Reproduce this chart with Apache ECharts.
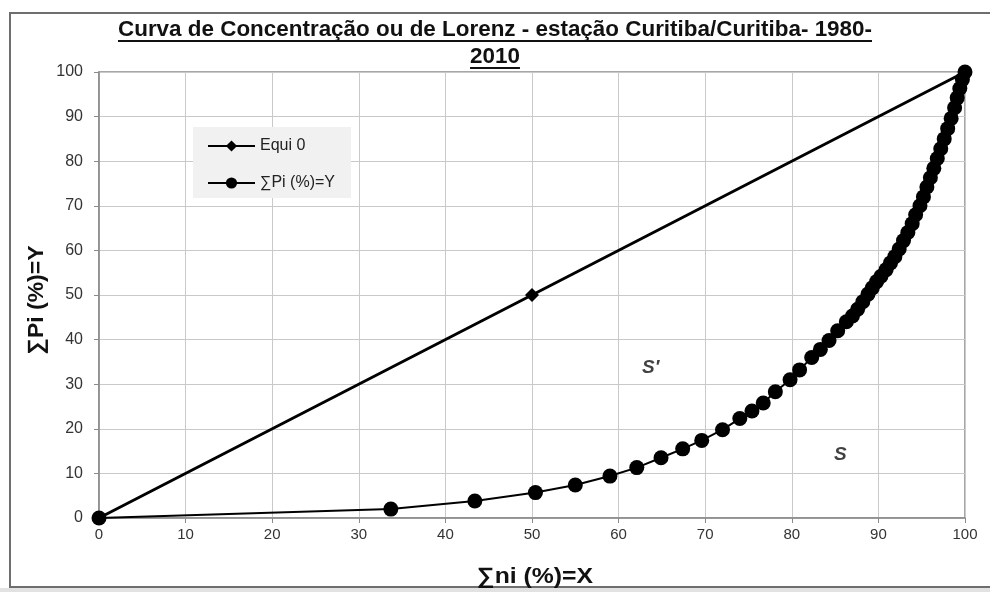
<!DOCTYPE html>
<html><head><meta charset="utf-8">
<script src="https://cdn.jsdelivr.net/npm/echarts@6/dist/echarts.min.js"></script>
<style>html,body{margin:0;padding:0;background:#fff}#c{width:990px;height:592px}</style>
</head><body><div id="c"></div>
<script>
const titleLines = ['Curva de Concentração ou de Lorenz - estação Curitiba/Curitiba- 1980-', '2010'];
const xAxisName = '∑ni (%)=X';
const yAxisName = '∑Pi (%)=Y';
const equiName = 'Equi 0';
const lorenzName = '∑Pi (%)=Y';
const equiX = [0, 50, 100];
const equiY = [0, 50, 100];
const lorenzX = [0, 33.7, 43.4, 50.4, 55.0, 59.0, 62.1, 64.9, 67.4, 69.6, 72.0, 74.0, 75.4, 76.7, 78.1, 79.8, 80.9, 82.3, 83.3, 84.3, 85.3, 86.3, 87.0, 87.6, 88.2, 88.8, 89.3, 89.8, 90.3, 90.9, 91.4, 91.9, 92.4, 92.9, 93.4, 93.9, 94.3, 94.8, 95.2, 95.6, 96.0, 96.4, 96.8, 97.2, 97.6, 98.0, 98.4, 98.8, 99.1, 99.4, 99.7, 100];
const lorenzY = [0, 2.0, 3.8, 5.7, 7.4, 9.4, 11.3, 13.5, 15.5, 17.4, 19.8, 22.3, 24.0, 25.8, 28.3, 31.0, 33.2, 36.0, 37.8, 39.8, 42.0, 44.0, 45.3, 46.8, 48.5, 50.2, 51.6, 53.0, 54.2, 55.7, 57.2, 58.6, 60.3, 62.2, 64.0, 66.0, 68.0, 70.0, 72.0, 74.2, 76.3, 78.4, 80.6, 82.8, 85.0, 87.3, 89.6, 92.0, 94.2, 96.3, 98.3, 100];
const annotText = ["S′", 'S'];
const annotX = [63.7, 85.6];
const annotY = [33.6, 14.1];

const pair = (xs, ys) => xs.map((x, i) => [x, ys[i]]);
const font = '"Liberation Sans", Arial, sans-serif';

const measure = (t, f) => { const cv = document.createElement('canvas').getContext('2d'); cv.font = f; return cv.measureText(t).width; };
const titleFont = 'bold 22px "Liberation Sans", Arial, sans-serif';
const sx = 754 / measure(titleLines[0], titleFont);
const line2W = measure(titleLines[1], titleFont) * sx;
const axFont = 'bold 22px "Liberation Sans", Arial, sans-serif';
const xnS = 116 / measure(xAxisName, axFont);
const ynS = 109 / measure(yAxisName, axFont);

const chart = echarts.init(document.getElementById('c'), null, {renderer: 'canvas'});
chart.setOption({
  animation: false,
  backgroundColor: '#fff',
  graphic: [
    {type: 'rect', silent: true, shape: {x: 0, y: 588, width: 990, height: 4}, style: {fill: '#e2e2e2'}},
    {type: 'rect', silent: true, shape: {x: 10, y: 13, width: 1000, height: 574}, style: {fill: 'none', stroke: '#6e6e6e', lineWidth: 2}},
    {type: 'text', silent: true, x: 495, y: 30, scaleX: sx, style: {text: titleLines[0], font: titleFont, fill: '#111', align: 'center', verticalAlign: 'middle'}},
    {type: 'text', silent: true, x: 495, y: 57, scaleX: sx, style: {text: titleLines[1], font: titleFont, fill: '#111', align: 'center', verticalAlign: 'middle'}},
    {type: 'line', silent: true, shape: {x1: 495 - 754 / 2, y1: 41, x2: 495 + 754 / 2, y2: 41}, style: {stroke: '#111', lineWidth: 2}},
    {type: 'line', silent: true, shape: {x1: 495 - line2W / 2, y1: 68, x2: 495 + line2W / 2, y2: 68}, style: {stroke: '#111', lineWidth: 2}},
    {type: 'text', silent: true, x: 535, y: 577, scaleX: xnS, style: {text: xAxisName, font: axFont, fill: '#111', align: 'center', verticalAlign: 'middle'}},
    {type: 'text', silent: true, x: 37, y: 300, rotation: Math.PI / 2, scaleX: ynS, style: {text: yAxisName, font: axFont, fill: '#111', align: 'center', verticalAlign: 'middle'}}
  ],
  legend: {
    orient: 'vertical', left: 193, top: 127,
    backgroundColor: '#f1f1f1',
    padding: [11, 16, 7, 14],
    itemWidth: 47, itemHeight: 14, itemGap: 21, itemTextGap: 3,
    textStyle: {fontFamily: font, fontSize: 16, color: '#222'},
    data: [equiName, lorenzName]
  },
  grid: {left: 99, right: 25, top: 72, bottom: 74, show: true, borderColor: '#8a8a8a', borderWidth: 1.5, containLabel: false},
  xAxis: {
    type: 'value', min: 0, max: 100, interval: 10,
    axisLine: {show: true, lineStyle: {color: '#8a8a8a', width: 1.5}},
    axisTick: {show: true, length: 5, lineStyle: {color: '#8a8a8a'}},
    axisLabel: {fontFamily: font, fontSize: 15, color: '#333', margin: 9},
    splitLine: {show: true, lineStyle: {color: '#c9c9c9', width: 1}}
  },
  yAxis: {
    type: 'value', min: 0, max: 100, interval: 10,
    axisLine: {show: true, lineStyle: {color: '#8a8a8a', width: 1.5}},
    axisTick: {show: true, length: 5, lineStyle: {color: '#8a8a8a'}},
    axisLabel: {fontFamily: font, fontSize: 16, color: '#333', margin: 16},
    splitLine: {show: true, lineStyle: {color: '#c9c9c9', width: 1}}
  },
  series: [
    {
      name: equiName, type: 'line', data: pair(equiX, equiY),
      symbol: 'diamond', symbolSize: 14, showAllSymbol: true,
      lineStyle: {color: '#000', width: 3}, itemStyle: {color: '#000'}, z: 3
    },
    {
      name: lorenzName, type: 'line', data: pair(lorenzX, lorenzY),
      symbol: 'circle', symbolSize: 15, showAllSymbol: true,
      lineStyle: {color: '#000', width: 2}, itemStyle: {color: '#000'}, z: 4
    },
    {
      name: 'annot', type: 'scatter', data: pair(annotX, annotY).map((p, i) => ({value: p, label: {formatter: annotText[i]}})),
      symbolSize: 0, silent: true,
      label: {show: true, position: 'inside', fontFamily: font, fontStyle: 'italic', fontWeight: 'bold', fontSize: 19, color: '#111'}
    }
  ]
});
</script></body></html>
